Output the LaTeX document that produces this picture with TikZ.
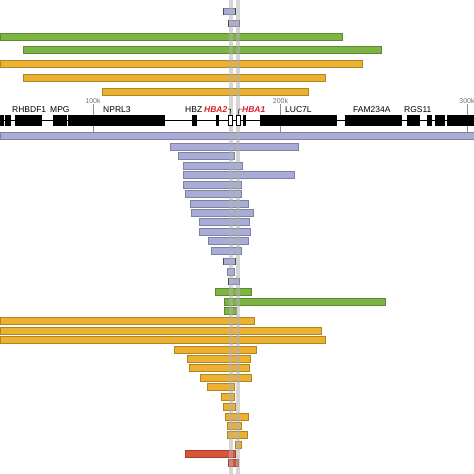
\documentclass[tikz,border=0pt]{standalone}
\usepackage{fontspec}
\setmainfont{Liberation Sans}
\usetikzlibrary{positioning}
\definecolor{delpurple}{RGB}{168,172,214}
\definecolor{delgreen}{RGB}{124,181,66}
\definecolor{delorange}{RGB}{236,177,48}
\definecolor{delred}{RGB}{217,84,58}
\definecolor{hbared}{RGB}{218,30,40}
\tikzset{
  delbar/.style={line width=0.4pt, fill=#1, draw=#1!75!black},
  genebox/.style={fill=black},
  genelabel/.style={font=\fontsize{8.5}{10}\selectfont, inner sep=0pt, anchor=base west},
  ticklabel/.style={font=\fontsize{7}{8}\selectfont, text=black!55, inner sep=0pt, anchor=south},
}
\begin{document}
\begin{tikzpicture}[x=1pt,y=-1pt]
\useasboundingbox (0,0) rectangle (474,474);

% deletions above the gene track
\foreach \y/\a/\b in {33/0/342, 46/23/381}
  \filldraw [delbar=delgreen] (\a,\y) rectangle (\b,\y+6.8);
\foreach \y/\a/\b in {60/0/362, 74/23/325, 88/102/308}
  \filldraw [delbar=delorange] (\a,\y) rectangle (\b,\y+6.8);

% deletions below the gene track
\foreach \y/\a/\b in {132/0/474, 143/170/298, 152/178/234, 162/183/242,
                      171/183/294, 181/183/241, 190/185/241, 200/190/248,
                      209/191/253, 218/199/249, 228/199/250, 237/208/248,
                      247/211/241, 268/227/234}
  \filldraw [delbar=delpurple] (\a,\y) rectangle (\b,\y+6.8);
\foreach \y/\a/\b in {8/223/235, 20/228/239, 258/223/235, 278/228/239} {
  \filldraw [delbar=delpurple] (\a,\y) rectangle (\b,\y+6);
  \draw [black!70, line width=0.6pt] (\a,\y-0.5) -- (\a,\y+6.5) (\b,\y-0.5) -- (\b,\y+6.5);
}
\foreach \y/\a/\b in {288/215/251, 298/224/385, 307/224/236}
  \filldraw [delbar=delgreen] (\a,\y) rectangle (\b,\y+6.8);
\foreach \y/\a/\b in {317/0/254, 327/0/321, 336/0/325, 346/174/256,
                      355/187/250, 364/189/249, 374/200/251, 383/207/234,
                      393/221/234, 403/223/235, 413/225/248, 422/227/241,
                      431/227/247, 441/235/241}
  \filldraw [delbar=delorange] (\a,\y) rectangle (\b,\y+6.8);
\foreach \y/\a/\b in {450/185/235, 459/228/238}
  \filldraw [delbar=delred] (\a,\y) rectangle (\b,\y+6.8);

% HBA1/HBA2 columns
\fill [black!30, opacity=0.55] (229,0) rectangle (232.5,474);
\fill [black!30, opacity=0.55] (236,0) rectangle (239.5,474);

% scale ticks
\foreach \x/\t in {93/100k, 280.5/200k, 467/300k} {
  \draw [black!45, line width=0.5pt] (\x,104) -- (\x,133);
  \node [ticklabel] (tick\t) at (\x,104) {\t};
}

% gene track
\draw [line width=0.8pt] (0,120) -- (474,120);
\foreach \a/\b in {0/4, 5/11, 15/42, 53/67, 68/165, 192/197, 216/219,
                   243/246, 260/337, 345/402, 407/420, 427/432, 435/445, 447/474}
  \fill [genebox] (\a,115) rectangle (\b,125.5);
\filldraw [fill=white, draw=black, line width=0.5pt] (228,115) rectangle (232,125.5);
\filldraw [fill=white, draw=black, line width=0.5pt] (236,115) rectangle (240,125.5);

\node [genelabel] (rhbdf1) at (12,112) {RHBDF1};
\node [genelabel] (mpg) at (50,112) {MPG};
\node [genelabel] (nprl3) at (103,112) {NPRL3};
\node [genelabel] (hbz) at (185,112) {HBZ};
\node [genelabel, text=hbared, font=\fontsize{8.5}{10}\selectfont\bfseries\itshape] (hbaii) at (204,112) {HBA2};
\node [genelabel, text=hbared, font=\fontsize{8.5}{10}\selectfont\bfseries\itshape] (hbai) at (242,112) {HBA1};
\node [genelabel] (luc7l) at (285,112) {LUC7L};
\node [genelabel] (fam234a) at (353,112) {FAM234A};
\node [genelabel] (rgs11) at (404,112) {RGS11};

\draw [line width=0.5pt] ([xshift=0.5pt, yshift=3pt]hbaii.south east) -- ++(2.5,0) -- (230,115);
\draw [line width=0.5pt] ([xshift=-0.5pt, yshift=3pt]hbai.south west) -- ++(-2.5,0) -- (238,115);

\end{tikzpicture}
\end{document}
